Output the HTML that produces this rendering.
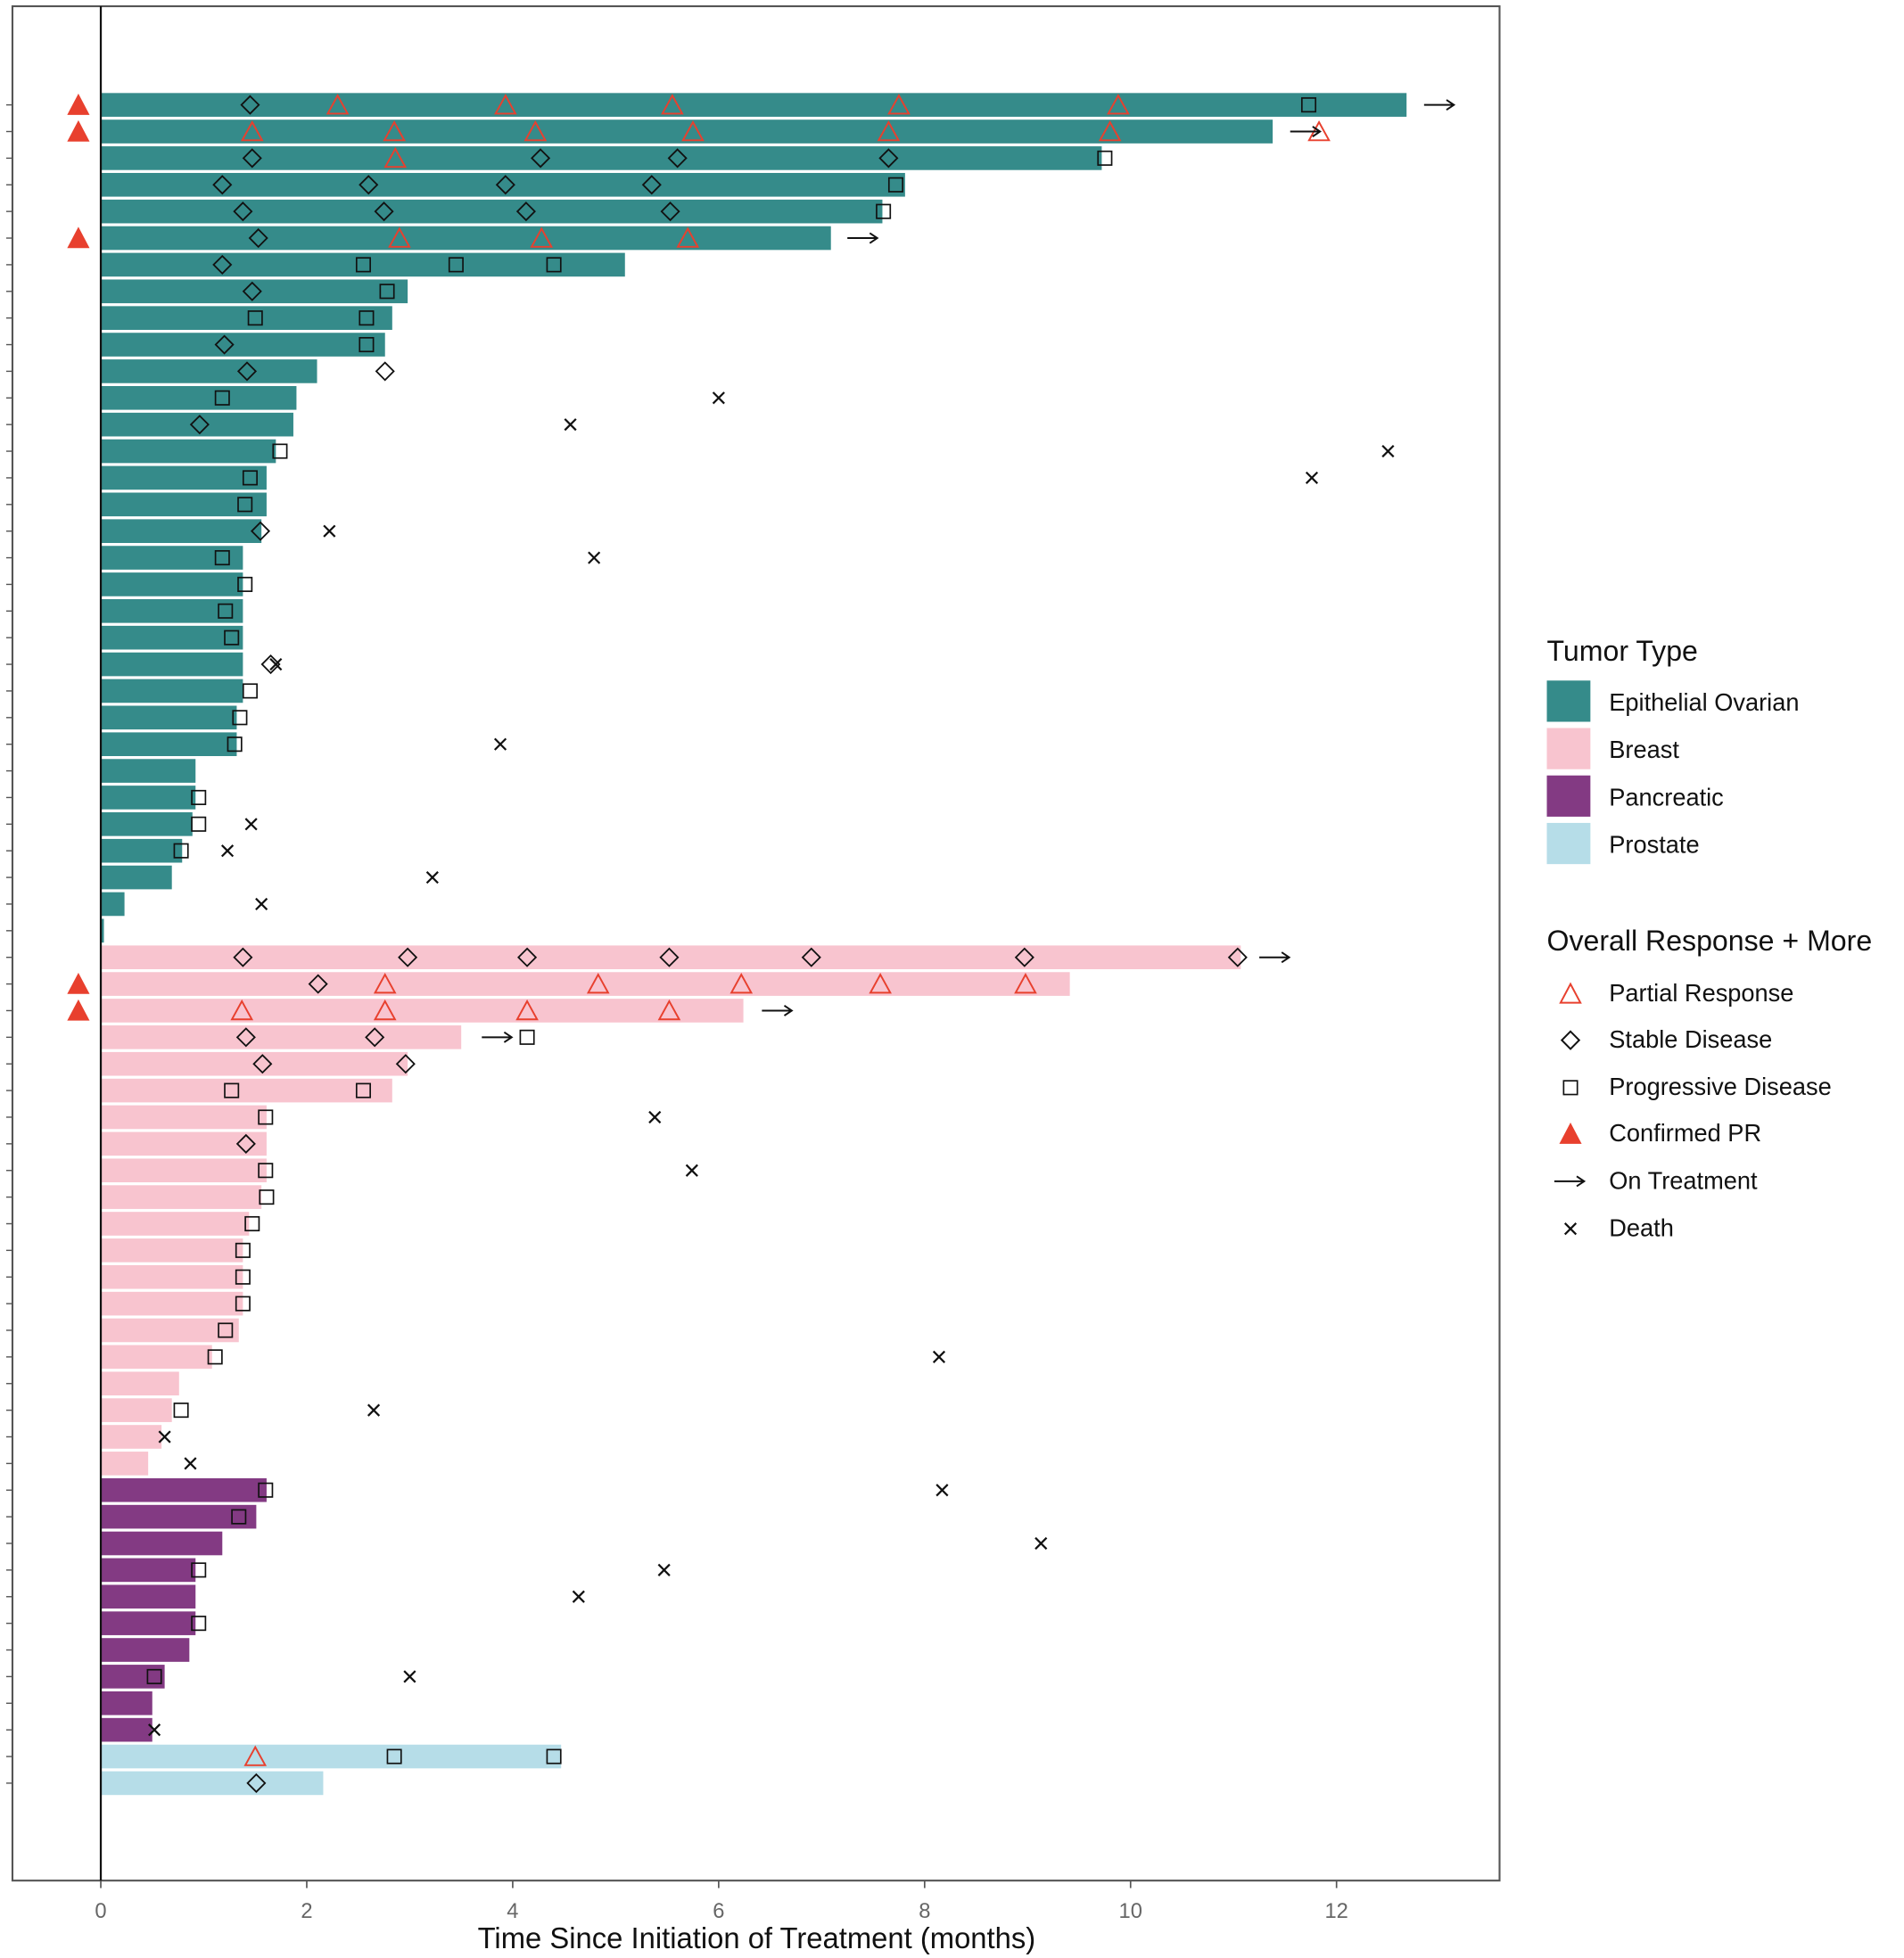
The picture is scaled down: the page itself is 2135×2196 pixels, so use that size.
<!DOCTYPE html>
<html><head><meta charset="utf-8"><style>
html,body{margin:0;padding:0;background:#fff}
svg{display:block}
text{font-family:"Liberation Sans",sans-serif}
</style></head><body>
<svg id="c" width="2135" height="2196" viewBox="0 0 1530 1568" preserveAspectRatio="none" xmlns="http://www.w3.org/2000/svg">
<rect x="10" y="5" width="1195" height="1501" fill="#fff" stroke="#555" stroke-width="1.5"/>
<g id="marks"></g>
<line x1="81" y1="5" x2="81" y2="1506" stroke="#111" stroke-width="1.6"/>
<text x="608" y="1560" font-size="23.5" text-anchor="middle" fill="#111">Time Since Initiation of Treatment (months)</text>
<g>
<text x="1243" y="529" font-size="23" fill="#111">Tumor Type</text>
<rect x="1243" y="545" width="35" height="33" fill="#358b8a"/>
<text x="1293" y="569" font-size="19.5" fill="#111">Epithelial Ovarian</text>
<rect x="1243" y="583" width="35" height="33" fill="#f8c4cf"/>
<text x="1293" y="607" font-size="19.5" fill="#111">Breast</text>
<rect x="1243" y="621" width="35" height="33" fill="#833a83"/>
<text x="1293" y="645" font-size="19.5" fill="#111">Pancreatic</text>
<rect x="1243" y="659" width="35" height="33" fill="#b6dde8"/>
<text x="1293" y="683" font-size="19.5" fill="#111">Prostate</text>
<text x="1243" y="761" font-size="23" fill="#111">Overall Response + More</text>
<path d="M1262 788 L1270 803 L1254 803 Z" fill="none" stroke="#e8402e" stroke-width="1.4"/>
<text x="1293" y="802" font-size="19.5" fill="#111">Partial Response</text>
<path d="M1262 826 L1269 833 L1262 840 L1255 833 Z" fill="none" stroke="#111" stroke-width="1.4"/>
<text x="1293" y="839" font-size="19.5" fill="#111">Stable Disease</text>
<rect x="1256.5" y="865.5" width="11" height="11" fill="none" stroke="#111" stroke-width="1.2"/>
<text x="1293" y="877" font-size="19.5" fill="#111">Progressive Disease</text>
<path d="M1262 899 L1271 916 L1253 916 Z" fill="#e8402e"/>
<text x="1293" y="914" font-size="19.5" fill="#111">Confirmed PR</text>
<path d="M1249 946 H1273 M1267 942 L1273 946 L1267 950" fill="none" stroke="#111" stroke-width="1.4"/>
<text x="1293" y="952" font-size="19.5" fill="#111">On Treatment</text>
<path d="M1257.5 979.5 L1266.5 988.5 M1266.5 979.5 L1257.5 988.5" stroke="#111" stroke-width="1.6"/>
<text x="1293" y="990" font-size="19.5" fill="#111">Death</text>
</g>
</svg>
<script>
const ends=[12.68,11.38,9.72,7.81,7.59,7.09,5.09,2.98,2.83,2.76,2.1,1.9,1.87,1.7,1.61,1.61,1.56,1.38,1.38,1.38,1.38,1.38,1.38,1.32,1.32,0.92,0.92,0.89,0.79,0.69,0.23,0.03,
11.07,9.41,6.24,3.5,2.98,2.83,1.61,1.61,1.61,1.56,1.44,1.38,1.38,1.38,1.34,1.08,0.76,0.69,0.59,0.46,
1.61,1.51,1.18,0.92,0.92,0.92,0.86,0.62,0.5,0.5,
4.47,2.16];
const tumor=[].concat(Array(32).fill(0),Array(20).fill(1),Array(10).fill(2),Array(2).fill(3));
const pr={0:[2.3,3.93,5.55,7.75,9.88],1:[1.47,2.85,4.22,5.75,7.65,9.8,11.83],2:[2.86],5:[2.9,4.28,5.7],33:[2.76,4.83,6.22,7.57,8.98],34:[1.37,2.76,4.14,5.52],62:[1.5]};
const sd={0:[1.45],2:[1.47,4.27,5.6,7.65],3:[1.18,2.6,3.93,5.35],4:[1.38,2.75,4.13,5.53],5:[1.53],6:[1.18],7:[1.47],9:[1.2],10:[1.42,2.76],12:[0.96],16:[1.55],21:[1.65],32:[1.38,2.98,4.14,5.52,6.9,8.97,11.04],33:[2.11],35:[1.41,2.66],36:[1.57,2.96],39:[1.41],63:[1.51]};
const pd={0:[11.73],2:[9.75],3:[7.72],4:[7.6],6:[2.55,3.45,4.4],7:[2.78],8:[1.5,2.58],9:[2.58],11:[1.18],13:[1.74],14:[1.45],15:[1.4],17:[1.18],18:[1.4],19:[1.21],20:[1.27],22:[1.45],23:[1.35],24:[1.3],26:[0.95],27:[0.95],28:[0.78],
35:[4.14],37:[1.27,2.55],38:[1.6],40:[1.6],41:[1.61],42:[1.47],43:[1.38],44:[1.38],45:[1.38],46:[1.21],47:[1.11],49:[0.78],52:[1.6],53:[1.34],55:[0.95],57:[0.95],59:[0.52],62:[2.85,4.4]};
const death={11:6.0,12:4.56,13:12.5,14:11.76,16:2.22,17:4.79,21:1.7,24:3.88,27:1.46,28:1.23,29:3.22,30:1.56,38:5.38,40:5.74,47:8.14,49:2.65,50:0.62,51:0.87,52:8.17,54:9.13,55:5.47,56:4.64,59:3.0,61:0.52};
const onTx={0:12.85,1:11.55,5:7.25,32:11.25,34:6.42,35:3.7};
const confirmed=[0,1,5,33,34];
const xTicks=[0,2,4,6,8,10,12];

const NS="http://www.w3.org/2000/svg";
const g=document.getElementById('marks');
const X=v=>81+82.75*v;
const Y=i=>84+i*21.333;
const colors=['#358b8a','#f8c4cf','#833a83','#b6dde8'];
function mk(tag,a){const e=document.createElementNS(NS,tag);for(const k in a)e.setAttribute(k,a[k]);g.appendChild(e);return e;}
xTicks.forEach(t=>{
  let l=mk('line',{x1:X(t),x2:X(t),y1:1506,y2:1512,stroke:'#555','stroke-width':1.2});
  
  
  let tx=mk('text',{x:X(t),y:1536,'font-size':17,'text-anchor':'middle',fill:'#666'});tx.textContent=t;
  
  
});
ends.forEach((v,i)=>{
  const y=Y(i);
  let tk=mk('line',{x1:5,x2:10,y1:y,y2:y,stroke:'#555','stroke-width':1});
  
  
  let b=mk('rect',{x:X(0),y:y-9.5,width:Math.max(X(v)-X(0),1),height:19,fill:colors[tumor[i]]});
  
  
  (sd[i]||[]).forEach(s=>{const x=X(s);let e=mk('path',{d:`M${x} ${y-7}L${x+7} ${y}L${x} ${y+7}L${x-7} ${y}Z`,fill:'none',stroke:'#111','stroke-width':1.3});
    
    });
  (pd[i]||[]).forEach(s=>{const x=X(s);let e=mk('rect',{x:x-5.5,y:y-5.5,width:11,height:11,fill:'none',stroke:'#111','stroke-width':1.2});
    
    });
  (pr[i]||[]).forEach(s=>{const x=X(s);let e=mk('path',{d:`M${x} ${y-7.5}L${x+8} ${y+7}L${x-8} ${y+7}Z`,fill:'none',stroke:'#e8402e','stroke-width':1.4});
    
    });
  if(death[i]!==undefined){const x=X(death[i]);let e=mk('path',{d:`M${x-4.5} ${y-4.5}L${x+4.5} ${y+4.5}M${x+4.5} ${y-4.5}L${x-4.5} ${y+4.5}`,stroke:'#111','stroke-width':1.6});
    
    }
  if(onTx[i]!==undefined){const x=X(onTx[i]);let e=mk('path',{d:`M${x} ${y}H${x+24}M${x+18} ${y-4}L${x+24} ${y}L${x+18} ${y+4}`,fill:'none',stroke:'#111','stroke-width':1.4});
    
    }
  if(confirmed.includes(i)){let e=mk('path',{d:`M63 ${y-9}L72 ${y+8}L54 ${y+8}Z`,fill:'#e8402e'});
    
    }
});
</script>
</body></html>
